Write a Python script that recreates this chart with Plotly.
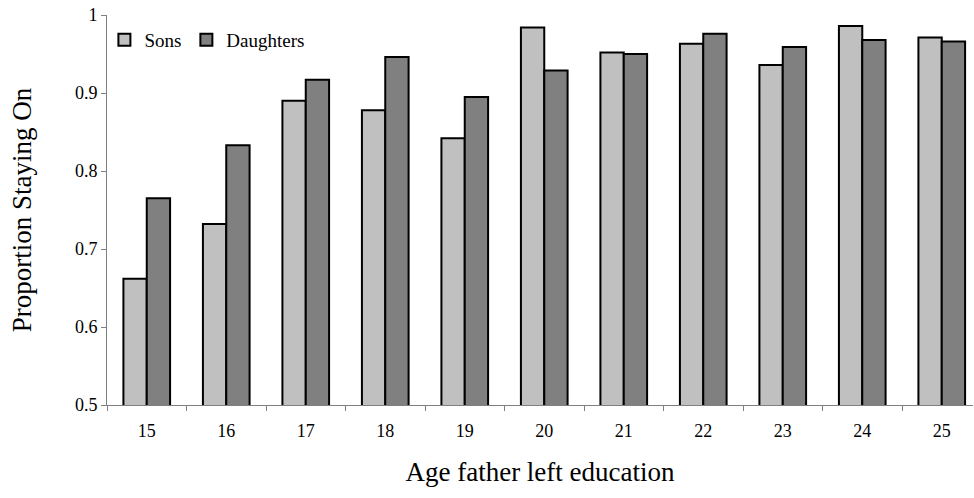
import plotly.graph_objects as go

ages = ["15", "16", "17", "18", "19", "20", "21", "22", "23", "24", "25"]
sons = [0.662, 0.732, 0.890, 0.878, 0.842, 0.984, 0.952, 0.963, 0.936, 0.986, 0.971]
daughters = [0.765, 0.833, 0.917, 0.946, 0.895, 0.929, 0.950, 0.976, 0.959, 0.968, 0.966]
y_ticks = [0.5, 0.6, 0.7, 0.8, 0.9, 1.0]
y_labels = ["0.5", "0.6", "0.7", "0.8", "0.9", "1"]

FONT = "Times New Roman, Liberation Serif, serif"

fig = go.Figure()
fig.add_trace(go.Bar(x=ages, y=sons, name="Sons",
                     marker=dict(color="#C0C0C0", line=dict(color="black", width=2))))
fig.add_trace(go.Bar(x=ages, y=daughters, name="Daughters",
                     marker=dict(color="#808080", line=dict(color="black", width=2))))

fig.update_layout(
    width=974, height=498,
    margin=dict(l=107, r=1, t=15, b=93, autoexpand=False),
    paper_bgcolor="white", plot_bgcolor="white",
    barmode="group", bargap=0.413, bargroupgap=0,
    font=dict(family=FONT, color="black"),
    showlegend=True,
    legend=dict(orientation="h", x=-0.003, y=0.985, xanchor="left", yanchor="top",
                font=dict(family=FONT, size=19, color="black"), itemwidth=30,
                bgcolor="rgba(0,0,0,0)", tracegroupgap=0),
    xaxis=dict(type="category", range=[-0.5, 10.393], automargin=False,
               showline=True, linecolor="#808080", linewidth=1,
               ticks="outside", tickson="boundaries", ticklen=5, tickcolor="#808080",
               tickfont=dict(family=FONT, size=18), ticklabelstandoff=9,
               ticklabeloverflow="allow",
               showgrid=False, zeroline=False,
               title=dict(text="Age father left education", font=dict(family=FONT, size=27), standoff=22)),
    yaxis=dict(range=[0.5, 1.0], tickvals=y_ticks, ticktext=y_labels, automargin=False,
               showline=True, linecolor="#808080", linewidth=1,
               ticks="outside", ticklen=5, tickcolor="#808080",
               tickfont=dict(family=FONT, size=18), ticklabeloverflow="allow",
               showgrid=False, zeroline=False,
               title=dict(text="Proportion Staying On", font=dict(family=FONT, size=27), standoff=35)),
)

# remove the default 8px page margin so the figure fills the window exactly
fig.write_html("out.html", config={"displayModeBar": False},
               post_script="document.body.style.margin='0';")
